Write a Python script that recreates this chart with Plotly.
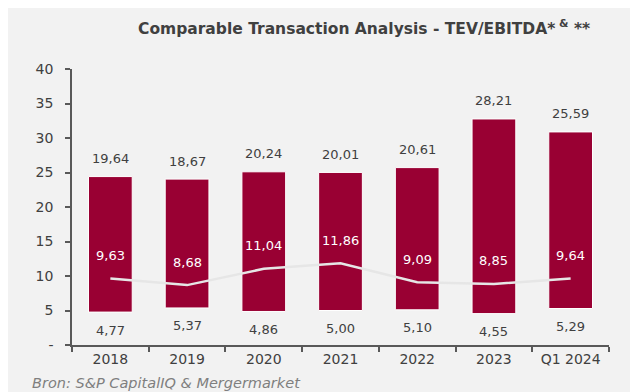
import plotly.graph_objects as go

categories = ["2018", "2019", "2020", "2021", "2022", "2023", "Q1 2024"]
low_values = [4.77, 5.37, 4.86, 5.00, 5.10, 4.55, 5.29]
range_values = [19.64, 18.67, 20.24, 20.01, 20.61, 28.21, 25.59]
median_values = [9.63, 8.68, 11.04, 11.86, 9.09, 8.85, 9.64]
y_tick_values = [0, 5, 10, 15, 20, 25, 30, 35, 40]
y_tick_labels = ["-", "5", "10", "15", "20", "25", "30", "35", "40"]

def fmt(v):
    return f"{v:.2f}".replace(".", ",")

BAR = "#990033"
TXT = "#404040"
FONT = "DejaVu Sans"

fig = go.Figure()
fig.add_trace(go.Bar(
    x=categories, y=range_values, base=low_values,
    marker=dict(color=BAR, line=dict(color="white", width=1)),
    width=0.57, hoverinfo="skip",
))
fig.add_trace(go.Scatter(
    x=categories, y=median_values, mode="lines",
    line=dict(color="#E6E6E6", width=2.5), hoverinfo="skip",
))

ann = []
for i, (lo, rg, md) in enumerate(zip(low_values, range_values, median_values)):
    ann.append(dict(x=i, y=lo + rg, text=fmt(rg), showarrow=False, yshift=18,
                    font=dict(color=TXT, size=13, family=FONT)))
    ann.append(dict(x=i, y=lo, text=fmt(lo), showarrow=False, yshift=-18,
                    font=dict(color=TXT, size=13, family=FONT)))
    ann.append(dict(x=i, y=md, text=fmt(md), showarrow=False, yshift=23,
                    font=dict(color="white", size=13, family=FONT)))

ann.append(dict(xref="paper", yref="paper", x=1.0, y=1.0, xanchor="right", yanchor="middle",
                yshift=42, xshift=-17,
                text="<b>Comparable Transaction Analysis - TEV/EBITDA*<sup> &</sup> **</b>",
                showarrow=False, font=dict(color=TXT, size=15.5, family=FONT)))
ann.append(dict(xref="paper", yref="paper", x=0, y=0, xanchor="left", yanchor="middle",
                xshift=-42, yshift=-38,
                text="<i>Bron: S&P CapitalIQ & Mergermarket</i>",
                showarrow=False, font=dict(color="#7F7F7F", size=14.5, family=FONT)))

fig.update_layout(
    width=638, height=392,
    margin=dict(l=64, r=37, t=61, b=55),
    paper_bgcolor="#F2F2F2", plot_bgcolor="#F2F2F2",
    showlegend=False,
    annotations=ann,
    font=dict(family=FONT, color=TXT, size=13),
)
fig.update_xaxes(
    type="category", showgrid=False, showline=True, linecolor="#595959", linewidth=1.5,
    ticks="outside", tickson="boundaries", ticklen=5, tickcolor="#595959", tickwidth=1.5,
    tickfont=dict(size=14, color=TXT, family=FONT), zeroline=False,
)
fig.update_yaxes(
    range=[0, 40], tickvals=y_tick_values, ticktext=y_tick_labels,
    showgrid=False, showline=True, linecolor="#595959", linewidth=1.5,
    ticks="outside", ticklen=5, tickcolor="#595959", tickwidth=1.5,
    ticklabelstandoff=9,
    tickfont=dict(size=14, color=TXT, family=FONT), zeroline=False,
)

fig.write_html("out.html")
